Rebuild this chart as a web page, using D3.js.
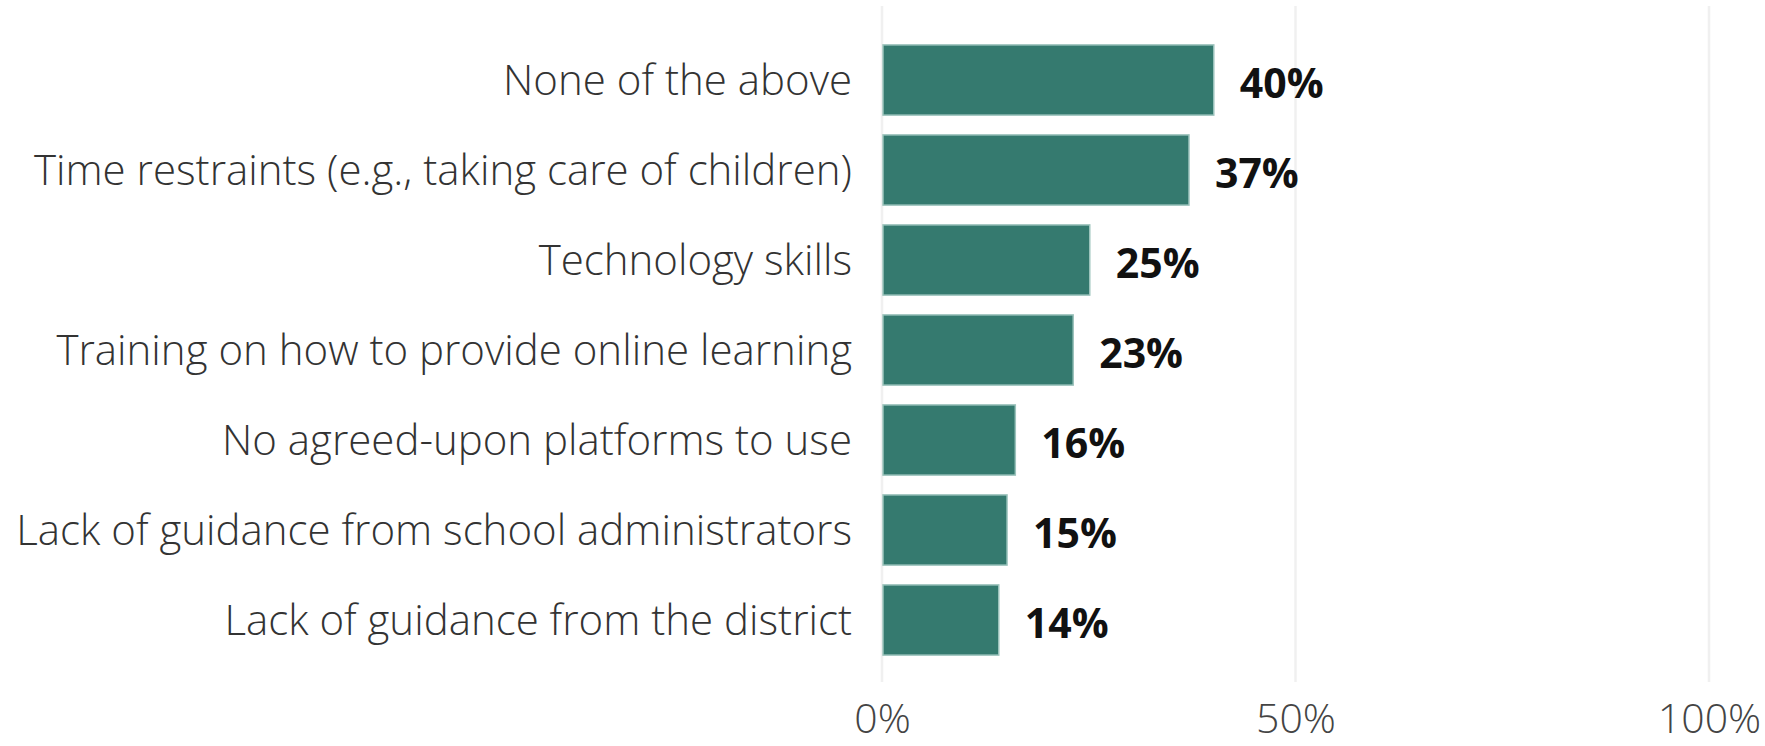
<!DOCTYPE html>
<meta charset="utf-8">
<style>
body { margin: 0; background: #fff; }
.cat { font-family: "Open Sans", sans-serif; font-weight: 300; font-size: 42px; fill: #333; }
.val { font-family: "Open Sans", sans-serif; font-weight: 700; font-size: 41px; fill: #111; }
.tick text { font-family: "Open Sans", sans-serif; font-weight: 300; font-size: 41px; fill: #444; }
</style>
<svg width="1765" height="746"></svg>
<script src="https://d3js.org/d3.v7.min.js"></script>
<script>

var categories = ["None of the above",
                  "Time restraints (e.g., taking care of children)",
                  "Technology skills",
                  "Training on how to provide online learning",
                  "No agreed-upon platforms to use",
                  "Lack of guidance from school administrators",
                  "Lack of guidance from the district"]
var values = [40, 37, 25, 23, 16, 15, 14]
var tickValues = [0, 50, 100]

var svg = d3.select("svg")

var x = d3.scaleLinear().domain([0, 100]).range([882, 1709]),
    y = d3.scaleBand().domain(categories).range([35, 665]).paddingInner(0.22).paddingOuter(0.11)

// gridlines
svg.append("g")
   .selectAll("line")
   .data(tickValues)
   .enter().append("line")
   .attr("x1", function(d) { return x(d) })
   .attr("x2", function(d) { return x(d) })
   .attr("y1", 6)
   .attr("y2", 682)
   .style("stroke", "#f0f0f0")
   .style("stroke-width", 2.5)

// x axis labels
var xAxis = d3.axisBottom(x)
              .tickValues(tickValues)
              .tickSize(0)
              .tickPadding(0)
              .tickFormat(function(d) { return d + "%" })

svg.append("g")
   .attr("transform", "translate(0,704)")
   .call(xAxis)
   .call(function(g) { g.select(".domain").remove() })

// bars
svg.append("g")
   .selectAll("rect")
   .data(values)
   .enter().append("rect")
   .attr("x", x(0) + 1)
   .attr("y", function(d, i) { return y(categories[i]) })
   .attr("width", function(d) { return x(d) - x(0) })
   .attr("height", y.bandwidth())
   .style("fill", "#357a6f")
   .style("stroke", "#9cc3bc")
   .style("stroke-width", 1.5)

// category labels
svg.append("g")
   .selectAll("text")
   .data(categories)
   .enter().append("text")
   .attr("class", "cat")
   .attr("x", 852)
   .attr("y", function(d) { return y(d) + y.bandwidth() / 2 })
   .attr("dy", "0.35em")
   .attr("text-anchor", "end")
   .text(function(d) { return d })

// value labels
svg.append("g")
   .selectAll("text")
   .data(values)
   .enter().append("text")
   .attr("class", "val")
   .attr("x", function(d) { return x(d) + 27 })
   .attr("y", function(d, i) { return y(categories[i]) + y.bandwidth() / 2 + 4 })
   .attr("dy", "0.35em")
   .text(function(d) { return d + "%" })

</script>
